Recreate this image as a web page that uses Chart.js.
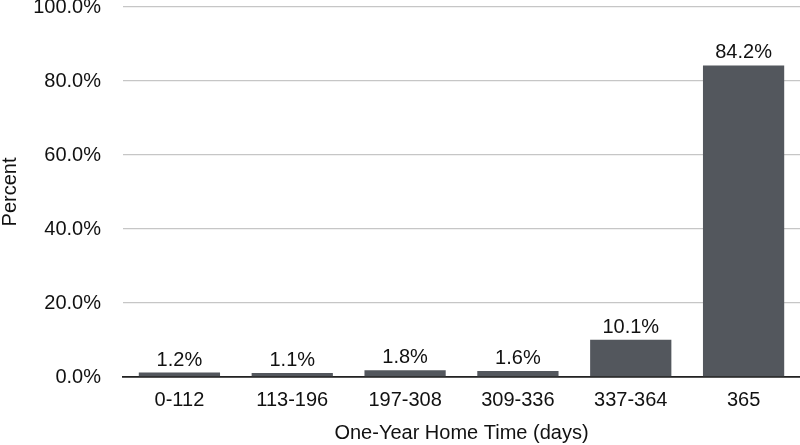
<!DOCTYPE html>
<html>
<head>
<meta charset="utf-8">
<script src="https://cdn.jsdelivr.net/npm/chart.js@4/dist/chart.umd.min.js"></script>
<style>
html,body{margin:0;padding:0;background:#fff;}
#wrap{width:800px;height:445px;position:relative;}
</style>
</head>
<body>
<div id="wrap"><canvas id="c" width="800" height="445"></canvas></div>
<script>
const categories = ["0-112", "113-196", "197-308", "309-336", "337-364", "365"];
const percentValues = [1.2, 1.1, 1.8, 1.6, 10.1, 84.2];
const yTicks = [0, 20, 40, 60, 80, 100];
const xTitle = "One-Year Home Time (days)";
const yTitle = "Percent";

const FONT = "'Liberation Sans', Arial, Helvetica, sans-serif";

const labelPlugin = {
  id: 'barLabels',
  afterDatasetsDraw(chart) {
    const ctx = chart.ctx;
    const meta = chart.getDatasetMeta(0);
    ctx.save();
    ctx.font = "20px " + FONT;
    ctx.fillStyle = "#111";
    ctx.textAlign = "center";
    ctx.textBaseline = "alphabetic";
    meta.data.forEach((bar, i) => {
      ctx.fillText(percentValues[i].toFixed(1) + "%", bar.x, bar.y - 7);
    });
    ctx.restore();
  }
};

new Chart(document.getElementById('c'), {
  type: 'bar',
  data: {
    labels: categories,
    datasets: [{
      data: percentValues,
      backgroundColor: "#53575d",
      borderWidth: 0,
      categoryPercentage: 0.72,
      barPercentage: 1.0
    }]
  },
  options: {
    responsive: false,
    animation: false,
    devicePixelRatio: 1,
    layout: { padding: { top: 7, right: 0, bottom: 0, left: 0 } },
    plugins: { legend: { display: false }, tooltip: { enabled: false } },
    scales: {
      x: {
        grid: { display: false, drawTicks: false },
        border: { display: true, color: "#222", width: 1.8 },
        ticks: { color: "#111", font: { family: FONT, size: 20 }, padding: 11, maxRotation: 0 },
        title: { display: true, text: xTitle, color: "#111", font: { family: FONT, size: 20, lineHeight: 1.2 }, padding: 0 },
        afterFit(s) { s.height = 68; s.paddingLeft = 0; s.paddingRight = 0; }
      },
      y: {
        min: 0, max: 100,
        afterBuildTicks(s) { s.ticks = yTicks.map(v => ({ value: v })); },
        grid: { color: "#c6c6c6", lineWidth: 1.3, drawTicks: false },
        border: { display: false },
        ticks: { color: "#111", font: { family: FONT, size: 20 }, padding: 22,
                 callback: v => v.toFixed(1) + "%" },
        title: { display: true, text: yTitle, color: "#111", font: { family: FONT, size: 20, lineHeight: 1.0 }, padding: 0 },
        afterFit(s) { s.width = 123; s.paddingTop = 0; s.paddingBottom = 0; }
      }
    }
  },
  plugins: [labelPlugin]
});
</script>
</body>
</html>
